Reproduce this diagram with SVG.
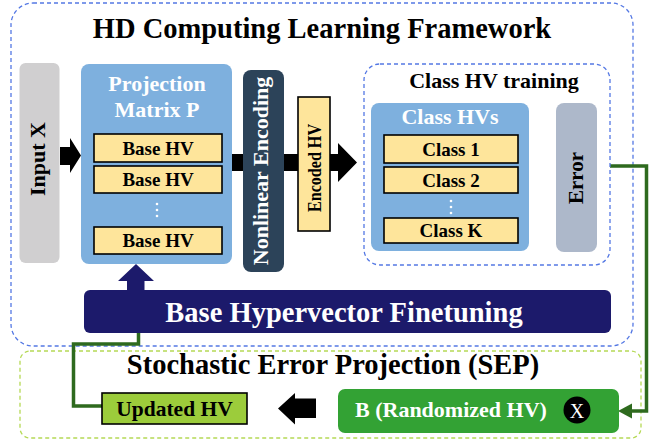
<svg xmlns="http://www.w3.org/2000/svg" width="652" height="440" viewBox="0 0 652 440">
<style>
text{font-family:"Liberation Serif","Times New Roman",serif;font-weight:bold;text-anchor:middle}
.w{fill:#fff}.k{fill:#000}
.dashb{fill:#fff;stroke:#5478e4;stroke-width:1.3;stroke-dasharray:4 3}
.yel{fill:#fee59b;stroke:#000;stroke-width:1.6}
.blue{fill:#7eb0de}
.dot{fill:#fff}
.grn{fill:none;stroke:#2e6a1e;stroke-width:3.5}
</style>
<rect width="652" height="440" fill="#fff"/>
<g id="framework">
<rect class="dashb" x="11" y="3" width="622" height="343" rx="22"/>
<text x="322" y="38" font-size="28.5" class="k">HD Computing Learning Framework</text>
</g>
<g id="sep">
<rect x="20" y="351" width="621" height="87" rx="10" fill="#fff" stroke="#b5d955" stroke-width="1.3" stroke-dasharray="4 3"/>
<text x="333" y="374" font-size="28.5" class="k">Stochastic Error Projection (SEP)</text>
</g>
<g id="connectors">
<polygon points="60,147 70,147 70,138 81,155.5 70,173 70,165 60,165" fill="#000"/>
<polygon points="232,154 338,154 338,143 357,162.5 338,182 338,171 232,171" fill="#000"/>
<polygon points="529,154 544,154 544,144 558,162.5 544,181 544,171 529,171" fill="#000"/>
<polygon points="136,264 154,281 144.5,281 144.5,291 127,291 127,281 118,281" fill="#1c1a6b"/>
<path class="grn" d="M606 166 H646.5 V411 H630"/>
<polygon points="618,411 632,403.5 632,418.5" fill="#2e6a1e"/>
<path class="grn" d="M102 406 H73.5 V344 H138.5 V323"/>
<polygon points="138.5,311 146,325 131,325" fill="#2e6a1e"/>
<polygon points="278,408.5 295,393 295,398.5 316,398.5 316,418 295,418 295,424.5" fill="#000"/>
</g>
<g id="input-x">
<rect x="19.5" y="63" width="40" height="200" rx="6" fill="#d0cfd0"/>
<text transform="translate(45,159) rotate(-90)" font-size="22" class="k">Input X</text>
</g>
<g id="projection">
<rect class="blue" x="81" y="64" width="151" height="200" rx="8"/>
<text x="157" y="91" font-size="22" class="w">Projection</text>
<text x="157" y="117" font-size="22" class="w">Matrix P</text>
<rect class="yel" x="94" y="134" width="128" height="28"/>
<text x="158" y="155" font-size="19" class="k">Base HV</text>
<rect class="yel" x="94" y="166" width="128" height="27"/>
<text x="158" y="186" font-size="19" class="k">Base HV</text>
<circle class="dot" cx="157" cy="204" r="1.3"/><circle class="dot" cx="157" cy="210" r="1.3"/><circle class="dot" cx="157" cy="216" r="1.3"/>
<rect class="yel" x="94" y="227" width="128" height="27"/>
<text x="158" y="247" font-size="19" class="k">Base HV</text>
</g>
<g id="nonlinear">
<rect x="243" y="70" width="41" height="202" rx="8" fill="#2c4359"/>
<text transform="translate(268,171) rotate(-90)" font-size="22" class="w">Nonlinear Encoding</text>
</g>
<g id="encoded">
<rect class="yel" x="298" y="97" width="32" height="134"/>
<text transform="translate(321,168) rotate(-90)" font-size="18" class="k" textLength="88" lengthAdjust="spacingAndGlyphs">Encoded HV</text>
</g>
<g id="class-training">
<rect class="dashb" x="364" y="64" width="246" height="201" rx="16"/>
<text x="494" y="88" font-size="22" class="k">Class HV training</text>
</g>
<g id="class-hvs">
<rect class="blue" x="371" y="103" width="158" height="148" rx="8"/>
<text x="450" y="124" font-size="22" class="w">Class HVs</text>
<rect class="yel" x="384" y="135" width="134" height="28"/>
<text x="451" y="156" font-size="19" class="k">Class 1</text>
<rect class="yel" x="384" y="167" width="134" height="26"/>
<text x="451" y="187" font-size="19" class="k">Class 2</text>
<circle class="dot" cx="451" cy="201" r="1.3"/><circle class="dot" cx="451" cy="207" r="1.3"/><circle class="dot" cx="451" cy="213" r="1.3"/>
<rect class="yel" x="384" y="218" width="134" height="25"/>
<text x="451" y="237" font-size="19" class="k">Class K</text>
</g>
<g id="error">
<rect x="556" y="103" width="41" height="149" rx="8" fill="#adb8ca"/>
<text transform="translate(583,178) rotate(-90)" font-size="21" class="k">Error</text>
</g>
<g id="finetuning">
<rect x="84" y="290" width="527" height="43" rx="6" fill="#1c1a6b"/>
<text x="344" y="322" font-size="28.5" class="w">Base Hypervector Finetuning</text>
</g>
<g id="updated-hv">
<rect x="102" y="393" width="145" height="31" fill="#9ccc3b" stroke="#000" stroke-width="1.6"/>
<text x="174.5" y="415.5" font-size="21.5" class="k">Updated HV</text>
</g>
<g id="b-randomized">
<rect x="338" y="389" width="281" height="44" rx="7" fill="#33a234"/>
<text x="355" y="417" font-size="22" class="w" style="text-anchor:start">B (Randomized HV)</text>
<circle cx="577" cy="410" r="13.5" fill="#000"/>
<text x="577" y="417.5" font-size="20" class="w" style="font-weight:normal">X</text>
</g>
</svg>
